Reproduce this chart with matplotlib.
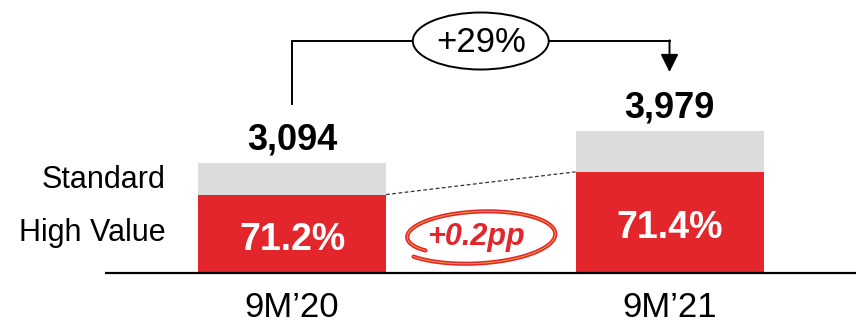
import matplotlib
matplotlib.use('Agg')
import matplotlib.pyplot as plt
from matplotlib.patches import Ellipse
import numpy as np

plt.rcParams['font.family'] = ['Liberation Sans', 'DejaVu Sans']

# data
periods = ['9M’20', '9M’21']
totals = np.array([3094, 3979])
high_value_pct = np.array([71.2, 71.4])
segments = ['Standard', 'High Value']
growth_label = '+29%'
mix_change_label = '+0.2pp'

red = '#E2262B'
grey = '#DCDCDC'

high = totals * high_value_pct / 100.0
std = totals - high
x = np.arange(len(periods))
w = 0.498

fig = plt.figure(figsize=(8.56, 3.25), dpi=100)
ax = fig.add_axes([0, 0, 1, 1])
ax.set_xlim(-0.7735, 1.494)
ax.set_ylim(-1461, 7669)
ax.axis('off')

ax.bar(x, high, width=w, color=red, zorder=2)
ax.bar(x, std, width=w, bottom=high, color=grey, zorder=2)

# baseline
ax.plot([-0.495, 1.494], [0, 0], color='black', lw=1.6, zorder=3,
        solid_capstyle='butt')

# totals above bars
for xi, t in zip(x, totals):
    ax.annotate(f'{t:,}', xy=(xi, t), xytext=(0, 9.7), textcoords='offset points',
                ha='center', va='baseline', fontsize=26, fontweight='bold')

# share inside red part
for xi, h, p in zip(x, high, high_value_pct):
    ax.text(xi, h / 2 - 445, f'{p:.1f}%', ha='center', va='baseline',
            fontsize=27, fontweight='bold', color='white', zorder=4)

# category labels
for xi, lab in zip(x, periods):
    ax.text(xi, -1240, lab, ha='center', va='baseline', fontsize=25)

# segment names, left of first bar
lx = x[0] - w / 2 - 0.085
ax.text(lx, high[0] + std[0] / 2 - 261, segments[0], ha='right', va='baseline',
        fontsize=22)
ax.text(lx, high[0] / 2 - 202, segments[1], ha='right', va='baseline',
        fontsize=22)

# dashed connector between red tops
ax.plot([x[0] + w / 2, x[1] - w / 2], [high[0], high[1]], color='#333333',
        lw=0.9, ls=(0, (3, 2)), zorder=3)

# growth bracket with arrow
y_top = totals[1] + 2538
y_start = totals[0] + 1653
y_tip = totals[1] + 1667
ax.plot([x[0], x[0], x[1]], [y_start, y_top, y_top], color='black', lw=1.4,
        zorder=3, solid_joinstyle='miter')
ax.annotate('', xy=(x[1], y_tip), xytext=(x[1], y_top + 20),
            arrowprops=dict(arrowstyle='-|>,head_length=0.6,head_width=0.3',
                            mutation_scale=18, lw=1.4, color='black',
                            shrinkA=0, shrinkB=0), zorder=3)
mid = (x[0] + x[1]) / 2
ax.add_patch(Ellipse((mid, y_top), 0.360, 1601, facecolor='white',
                     edgecolor='black', lw=1.4, zorder=4))
ax.text(mid, y_top - 320, growth_label, ha='center', va='baseline',
        fontsize=25, zorder=5)

# hand drawn red loop round the mix change
cx, cy = 0.487, 1011
a, b = 0.2013, 702
t = np.linspace(0, 1, 300)
ang = np.deg2rad(-140 + 353 * t)
r = 1.07 - 0.06 * t - 0.22 * t ** 6
lx_ = cx + a * r * np.cos(ang)
ly_ = cy + b * r * np.sin(ang) + 90 * np.cos(ang)
ax.plot(lx_, ly_, color=red, lw=3.0, zorder=4, solid_capstyle='round')
ax.plot(lx_, ly_, color='#F2A33A', lw=0.7, zorder=4)
ax.text(cx, 787, mix_change_label, ha='center', va='baseline', fontsize=22,
        fontweight='bold', fontstyle='italic', color=red, zorder=5)

fig.savefig('out.png', dpi=100)
